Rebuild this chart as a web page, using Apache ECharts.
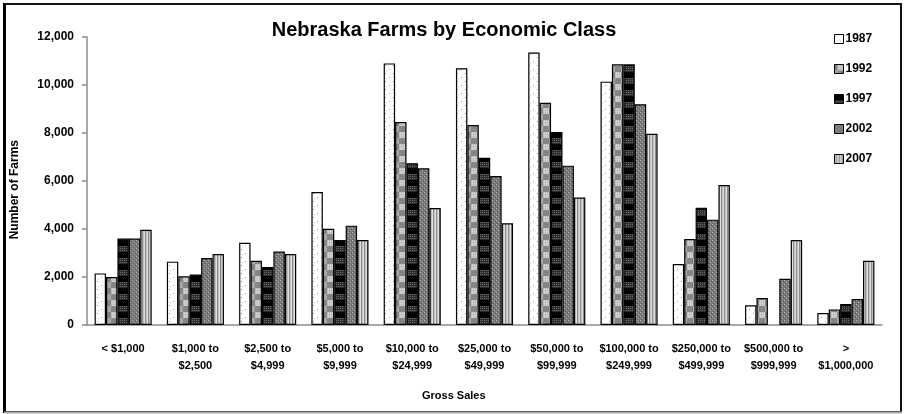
<!DOCTYPE html>
<html>
<head>
<meta charset="utf-8">
<script src="https://cdn.jsdelivr.net/npm/echarts@6/dist/echarts.min.js"></script>
<style>
html,body{margin:0;padding:0;background:#fff;}
#chart{width:905px;height:414px;}
</style>
</head>
<body>
<div id="chart"></div>
<script>
const categories = ['< $1,000', '$1,000 to\n$2,500', '$2,500 to\n$4,999', '$5,000 to\n$9,999', '$10,000 to\n$24,999', '$25,000 to\n$49,999', '$50,000 to\n$99,999', '$100,000 to\n$249,999', '$250,000 to\n$499,999', '$500,000 to\n$999,999', '>\n$1,000,000'];
const years = ['1987', '1992', '1997', '2002', '2007'];
const v1987 = [2150, 2640, 3430, 5540, 10900, 10700, 11350, 10140, 2540, 820, 500];
const v1992 = [2000, 2030, 2680, 4010, 8460, 8330, 9260, 10860, 3580, 1125, 650];
const v1997 = [3600, 2100, 2420, 3540, 6740, 6970, 8040, 10860, 4890, null, 875];
const v2002 = [3600, 2790, 3060, 4140, 6530, 6210, 6640, 9200, 4390, 1930, 1080];
const v2007 = [3970, 2960, 2960, 3540, 4875, 4240, 5310, 7970, 5830, 3540, 2680];
const yTicks = [0, 2000, 4000, 6000, 8000, 10000, 12000];

function pattern(w, h, draw) {
  const c = document.createElement('canvas');
  c.width = w; c.height = h;
  const ctx = c.getContext('2d');
  draw(ctx, w, h);
  return { image: c, repeat: 'repeat' };
}
function px(ctx, x, y, col) { ctx.fillStyle = col; ctx.fillRect(x, y, 1, 1); }

const p1987 = pattern(8, 8, (ctx, w, h) => {
  ctx.fillStyle = '#ffffff'; ctx.fillRect(0, 0, w, h);
  px(ctx, 1, 1, '#999'); px(ctx, 5, 5, '#aaa'); px(ctx, 2, 6, '#ccc');
});
const p1992 = pattern(12, 12, (ctx, w, h) => {
  ctx.fillStyle = '#858585'; ctx.fillRect(0, 0, w, h);
  ctx.fillStyle = '#cfcfcf'; ctx.fillRect(3, 0, 6, 6);
  ctx.fillStyle = '#a8a8a8'; ctx.fillRect(0, 6, 3, 6); ctx.fillRect(9, 6, 3, 6);
  for (let y = 0; y < 6; y += 2) for (let x = 3; x < 9; x += 2) px(ctx, x, y, '#b0b0b0');
});
const p1997 = pattern(8, 12, (ctx, w, h) => {
  ctx.fillStyle = '#000'; ctx.fillRect(0, 0, w, h);
  ctx.fillStyle = '#2e2e2e'; ctx.fillRect(0, 6, w, 6);
  for (let y = 6; y < 12; y += 2) for (let x = 0; x < w; x += 2) px(ctx, x, y, '#6a6a6a');
});
const p2002 = pattern(4, 4, (ctx, w, h) => {
  ctx.fillStyle = '#7a7a7a'; ctx.fillRect(0, 0, w, h);
  px(ctx, 0, 0, '#b5b5b5'); px(ctx, 2, 2, '#b5b5b5'); px(ctx, 1, 3, '#555'); px(ctx, 3, 1, '#555');
});
const p2007 = pattern(3, 4, (ctx, w, h) => {
  ctx.fillStyle = '#e0e0e0'; ctx.fillRect(0, 0, w, h);
  ctx.fillStyle = '#8c8c8c'; ctx.fillRect(1, 0, 1, h);
  ctx.fillStyle = '#c0c0c0'; ctx.fillRect(2, 0, 1, h);
});
const fills = [p1987, p1992, p1997, p2002, p2007];
const values = [v1987, v1992, v1997, v2002, v2007];

const font = "'Liberation Sans', Arial, sans-serif";
const chart = echarts.init(document.getElementById('chart'));
chart.setOption({
  animation: false,
  backgroundColor: '#fff',
  title: {
    text: 'Nebraska Farms by Economic Class',
    left: 439, top: 15, textAlign: 'center',
    textStyle: { fontFamily: font, fontSize: 20, fontWeight: 'bold', color: '#000' }
  },
  legend: {
    orient: 'vertical', left: 829, top: 28,
    itemWidth: 9, itemHeight: 9, itemGap: 18,
    icon: 'rect',
    data: years,
    textStyle: { fontFamily: font, fontSize: 12, fontWeight: 'bold', color: '#000', padding: [0, 0, 0, -3] },
    itemStyle: { borderColor: '#000', borderWidth: 1 }
  },
  grid: { left: 87, right: 23, top: 37, bottom: 89 },
  xAxis: {
    type: 'category', data: categories,
    axisLine: { lineStyle: { color: '#8c8c8c', width: 1.5 } },
    axisTick: { length: 5, lineStyle: { color: '#8c8c8c', width: 1.5 } },
    axisLabel: { interval: 0, margin: 15, lineHeight: 17, fontFamily: font, fontSize: 11, fontWeight: 'bold', color: '#000' }
  },
  yAxis: {
    type: 'value', min: 0, max: 12000, interval: 2000,
    axisLine: { show: true, lineStyle: { color: '#8c8c8c', width: 1.5 } },
    axisTick: { show: true, length: 5, lineStyle: { color: '#8c8c8c', width: 1.5 } },
    splitLine: { show: false },
    axisLabel: {
      margin: 13, fontFamily: font, fontSize: 12, fontWeight: 'bold', color: '#000',
      formatter: v => yTicks.includes(v) ? v.toLocaleString('en-US') : ''
    }
  },
  series: years.map((y, i) => ({
    name: y, type: 'bar', data: values[i],
    barGap: '0%', barCategoryGap: '21%',
    itemStyle: { color: fills[i], borderColor: '#000', borderWidth: 1.2 }
  })),
  graphic: [
    { type: 'text', left: 9, top: 140, rotation: Math.PI / 2, style: { text: 'Number of Farms', font: "bold 12px 'Liberation Sans', Arial, sans-serif", fill: '#000' }, silent: true },
    { type: 'text', left: 422, top: 390, style: { text: 'Gross Sales', font: "bold 11px 'Liberation Sans', Arial, sans-serif", fill: '#000' }, silent: true },
    { type: 'rect', shape: { x: 4, y: 4, width: 897, height: 408 }, style: { fill: 'none', stroke: '#111', lineWidth: 2 }, silent: true },
    { type: 'line', shape: { x1: 4.5, y1: 4, x2: 4.5, y2: 412 }, style: { stroke: '#000', lineWidth: 3 }, silent: true },
    { type: 'line', shape: { x1: 4, y1: 412.5, x2: 902, y2: 412.5 }, style: { stroke: '#aaa', lineWidth: 2 }, silent: true }
  ]
});
</script>
</body>
</html>
